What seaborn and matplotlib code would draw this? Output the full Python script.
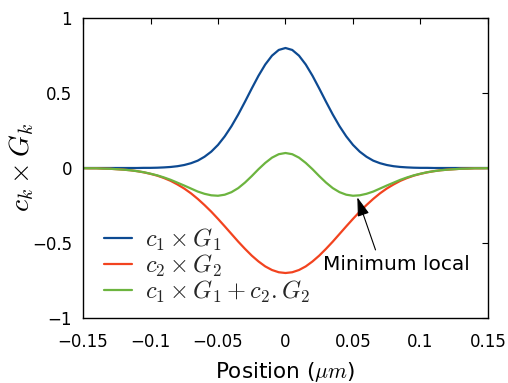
import matplotlib
matplotlib.use("Agg")
import matplotlib.pyplot as plt
import seaborn as sns

# sample positions (um)
position = [
    -0.150, -0.145, -0.140, -0.135, -0.130, -0.125, -0.120, -0.115, -0.110, -0.105,
    -0.100, -0.095, -0.090, -0.085, -0.080, -0.075, -0.070, -0.065, -0.060, -0.055,
    -0.050, -0.045, -0.040, -0.035, -0.030, -0.025, -0.020, -0.015, -0.010, -0.005,
    0.000,
    0.005, 0.010, 0.015, 0.020, 0.025, 0.030, 0.035, 0.040, 0.045, 0.050,
    0.055, 0.060, 0.065, 0.070, 0.075, 0.080, 0.085, 0.090, 0.095, 0.100,
    0.105, 0.110, 0.115, 0.120, 0.125, 0.130, 0.135, 0.140, 0.145, 0.150,
]

# c1 x G1 (blue)
c1_g1 = [
    0.000, 0.000, 0.000, 0.000, 0.000, 0.000, 0.000, 0.000, 0.000, 0.001,
    0.001, 0.002, 0.004, 0.007, 0.012, 0.020, 0.032, 0.049, 0.075, 0.109,
    0.154, 0.211, 0.279, 0.357, 0.442, 0.530, 0.615, 0.690, 0.749, 0.787,
    0.800,
    0.787, 0.749, 0.690, 0.615, 0.530, 0.442, 0.357, 0.279, 0.211, 0.154,
    0.109, 0.075, 0.049, 0.032, 0.020, 0.012, 0.007, 0.004, 0.002, 0.001,
    0.001, 0.000, 0.000, 0.000, 0.000, 0.000, 0.000, 0.000, 0.000, 0.000,
]

# c2 x G2 (red)
c2_g2 = [
    -0.001, -0.002, -0.002, -0.004, -0.005, -0.008, -0.011, -0.015, -0.021, -0.029,
    -0.039, -0.051, -0.067, -0.086, -0.110, -0.137, -0.169, -0.206, -0.247, -0.291,
    -0.339, -0.389, -0.440, -0.491, -0.539, -0.584, -0.623, -0.656, -0.680, -0.695,
    -0.700,
    -0.695, -0.680, -0.656, -0.623, -0.584, -0.539, -0.491, -0.440, -0.389, -0.339,
    -0.291, -0.247, -0.206, -0.169, -0.137, -0.110, -0.086, -0.067, -0.051, -0.039,
    -0.029, -0.021, -0.015, -0.011, -0.008, -0.005, -0.004, -0.002, -0.002, -0.001,
]

# c1 x G1 + c2 . G2 (green)
total = [
    -0.001, -0.002, -0.002, -0.004, -0.005, -0.008, -0.011, -0.015, -0.021, -0.028,
    -0.038, -0.049, -0.063, -0.079, -0.098, -0.117, -0.137, -0.157, -0.172, -0.182,
    -0.185, -0.178, -0.161, -0.134, -0.097, -0.054, -0.008, 0.034, 0.069, 0.092,
    0.100,
    0.092, 0.069, 0.034, -0.008, -0.054, -0.097, -0.134, -0.161, -0.178, -0.185,
    -0.182, -0.172, -0.157, -0.137, -0.117, -0.098, -0.079, -0.063, -0.049, -0.038,
    -0.028, -0.021, -0.015, -0.011, -0.008, -0.005, -0.004, -0.002, -0.002, -0.001,
]

x_ticks = [-0.15, -0.1, -0.05, 0, 0.05, 0.1, 0.15]
x_tick_labels = ["\u22120.15", "\u22120.1", "\u22120.05", "0", "0.05", "0.1", "0.15"]
y_ticks = [-1, -0.5, 0, 0.5, 1]
y_tick_labels = ["\u22121", "\u22120.5", "0", "0.5", "1"]

sns.set_theme(style="white")
plt.rcParams["font.family"] = ["DejaVu Sans"]
plt.rcParams["mathtext.fontset"] = "cm"

fig = plt.figure(figsize=(5.08, 3.83), dpi=100)
ax = fig.add_axes([0.1634, 0.1697, 0.7972, 0.7833])

sns.lineplot(x=position, y=c1_g1, ax=ax, color="#0d4a92", lw=1.6,
             label=r"$c_1 \times G_1$")
sns.lineplot(x=position, y=c2_g2, ax=ax, color="#f2431f", lw=1.6,
             label=r"$c_2 \times G_2$")
sns.lineplot(x=position, y=total, ax=ax, color="#6cb43f", lw=1.6,
             label=r"$c_1 \times G_1 + c_2 . G_2$")

ax.set_xlim(-0.15, 0.15)
ax.set_ylim(-1, 1)
ax.set_xticks(x_ticks)
ax.set_xticklabels(x_tick_labels)
ax.set_yticks(y_ticks)
ax.set_yticklabels(y_tick_labels)
ax.tick_params(direction="in", top=True, right=True, length=4, width=0.8,
               colors="black", labelsize=12)
ax.tick_params(axis="x", pad=11)
ax.tick_params(axis="y", pad=8)
for s in ax.spines.values():
    s.set_color("black")
    s.set_linewidth(1.0)

ax.set_xlabel(r"Position ($\mu m$)", fontsize=15.5, color="black", labelpad=6)
ax.set_ylabel(r"$c_k \times G_k$", fontsize=20, color="black")
ax.yaxis.set_label_coords(-0.115, 0.5)

ax.annotate("Minimum local", xy=(0.0532, -0.195), xytext=(0.082, -0.64),
            ha="center", va="center", fontsize=14.5, color="black",
            arrowprops=dict(arrowstyle="-|>,head_length=0.8,head_width=0.25",
                            color="black", lw=0.8, relpos=(0.37, 1.0),
                            shrinkA=1, shrinkB=0))

ax.legend(loc="lower left", bbox_to_anchor=(0.01, -0.013), frameon=False,
          fontsize=17.5, handlelength=1.15, handletextpad=0.55, labelspacing=0.0,
          borderaxespad=0.3)

fig.savefig("out.png", dpi=100)
plt.close(fig)
